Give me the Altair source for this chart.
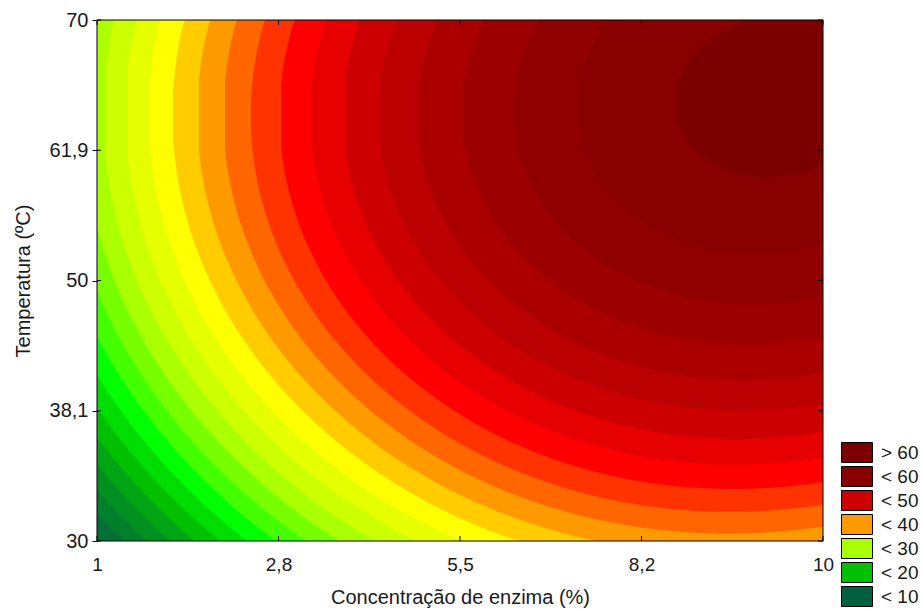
import json
import numpy as np
import pandas as pd
import altair as alt

# ---------------- values ----------------
x_tick_labels = ["1", "2,8", "5,5", "8,2", "10"]
y_tick_labels = ["30", "38,1", "50", "61,9", "70"]
tick_pos = [0, 1, 2, 3, 4]          # labels sit at evenly spaced positions

x_title = "Concentração de enzima (%)"
y_title = "Temperatura (ºC)"

# fitted response surface, in unit coordinates (u: left->right, v: bottom->top)
surf_const = 9.5
surf_u = 68.6
surf_v = 48.6
surf_uu = -39.5
surf_vv = -29.6
surf_uv = -2.1
surf_uuv = 4.5

# contour bands (lower bound of each band) and their colours
band_lower = [8, 10, 12, 14, 16, 18, 20, 22, 24, 26, 28, 30, 32, 34,
              36, 38, 40, 42, 44, 46, 48, 50, 52, 54, 56, 58, 60]
band_colors = ["#006040", "#007035", "#00802a", "#00901f", "#00a514", "#00c000",
               "#00dd00", "#00ff00", "#44ff00", "#77ff00", "#aaff00", "#ccff00",
               "#e6ff00", "#ffff00", "#ffcc00", "#ff9900", "#ff6600", "#ff3300",
               "#ff0000", "#e60000", "#cc0000", "#ba0000", "#aa0000", "#9c0000",
               "#910000", "#880000", "#7c0000"]

legend_labels = ["> 60", "< 60", "< 50", "< 40", "< 30", "< 20", "< 10"]
legend_lower = [60, 58, 48, 38, 28, 18, 8]

# ---------------- build band regions ----------------
label_of = dict(zip(legend_lower, legend_labels))
band_names = [label_of.get(lo, f"{lo}–{lo + 2}") for lo in band_lower]

N = 364
us = np.linspace(0.0, 1.0, N)
span = tick_pos[-1] - tick_pos[0]
frames = []
frames.append(pd.DataFrame({"level": 0, "band": band_names[0],
                            "x": us * span, "y": 0.0, "y2": float(span)}))
for i, c in enumerate(band_lower[1:], start=1):
    a2 = surf_vv
    a1 = surf_v + surf_uv * us + surf_uuv * us ** 2
    a0 = surf_const + surf_u * us + surf_uu * us ** 2 - c
    disc = a1 ** 2 - 4 * a2 * a0
    ok = disc > 0
    sq = np.sqrt(np.where(ok, disc, 0.0))
    r1 = (-a1 + sq) / (2 * a2)
    r2 = (-a1 - sq) / (2 * a2)
    lo = np.clip(r1, 0, 1)
    hi = np.clip(r2, 0, 1)
    m = ok & (hi > lo)
    if m.sum() == 0:
        continue
    frames.append(pd.DataFrame({"level": i, "band": band_names[i],
                                "x": us[m] * span, "y": lo[m] * span,
                                "y2": hi[m] * span}))
df = pd.concat(frames, ignore_index=True).round(4)

# ---------------- chart ----------------
W, H = 726, 521
FONT = "Liberation Sans"
TXT = "#1a1a1a"

xscale = alt.Scale(domain=[tick_pos[0], tick_pos[-1]], nice=False, zero=False)
yscale = alt.Scale(domain=[tick_pos[0], tick_pos[-1]], nice=False, zero=False)

x_axis = alt.Axis(values=tick_pos, labelExpr=f"{json.dumps(x_tick_labels)}[datum.value]",
                  ticks=False, domain=False, grid=False, labelFont=FONT, labelFontSize=19,
                  labelColor=TXT, labelPadding=14, labelFlush=False, labelOverlap=False,
                  titleFont=FONT, titleFontSize=20, titleFontWeight="normal", titleColor=TXT,
                  titleX=363, titleY=56, titleBaseline="middle", titleAlign="center", zindex=1)
y_axis = alt.Axis(values=tick_pos, labelExpr=f"{json.dumps(y_tick_labels)}[datum.value]",
                  ticks=True, tickSize=5, tickColor="black", domain=False, grid=False,
                  labelFont=FONT, labelFontSize=20, labelColor=TXT, labelPadding=4,
                  labelFlush=False, labelOverlap=False,
                  titleFont=FONT, titleFontSize=20, titleFontWeight="normal", titleColor=TXT,
                  titleAngle=270, titleX=-74, titleY=260.5, titleBaseline="middle",
                  titleAlign="center", zindex=1)

XE = alt.X("x:Q", scale=xscale, axis=x_axis, title=x_title)
YE = alt.Y("y:Q", scale=yscale, axis=y_axis, title=y_title)

color_enc = alt.Color("band:N", scale=alt.Scale(domain=band_names, range=band_colors),
                      title=None,
                      legend=alt.Legend(values=legend_labels, orient="none", direction="vertical",
                                        legendX=749.5, legendY=422,
                                        symbolType="M-1.55,-1L1.55,-1L1.55,1L-1.55,1Z",
                                        symbolSize=400, symbolStrokeColor="black",
                                        symbolStrokeWidth=1, symbolOpacity=1,
                                        labelFont=FONT, labelFontSize=19, labelColor=TXT,
                                        labelOffset=13.5, rowPadding=-1, padding=0))

base = alt.Chart(df)
layers = []
for i in sorted(df["level"].unique()):
    layers.append(
        base.transform_filter(alt.datum.level == int(i))
        .mark_area(opacity=1, interpolate="linear")
        .encode(x=XE, y=YE, y2="y2:Q", color=color_enc)
    )

frame_df = pd.DataFrame({"x": [tick_pos[0]], "x2": [tick_pos[-1]],
                         "y": [tick_pos[0]], "y2": [tick_pos[-1]]})
frame = alt.Chart(frame_df).mark_rect(fillOpacity=0, stroke="black", strokeWidth=1).encode(
    x=XE, x2="x2:Q", y=YE, y2="y2:Q")

xt = pd.DataFrame({"x": tick_pos})
yt = pd.DataFrame({"y": tick_pos})
tick_top = alt.Chart(xt).mark_rule(color="black").encode(
    x=XE, y=alt.value(0), y2=alt.value(5))
tick_bot = alt.Chart(xt).mark_rule(color="black").encode(
    x=XE, y=alt.value(H), y2=alt.value(H - 5))
tick_left = alt.Chart(yt).mark_rule(color="black").encode(
    y=YE, x=alt.value(0), x2=alt.value(4))
tick_right = alt.Chart(yt).mark_rule(color="black").encode(
    y=YE, x=alt.value(W), x2=alt.value(W - 5))

chart = alt.layer(*layers, frame, tick_top, tick_bot, tick_left, tick_right).properties(
    width=W, height=H,
    padding={"left": 97, "top": 20, "right": 100, "bottom": 68},
    autosize=alt.AutoSizeParams(type="none"),
    background="white",
).configure_view(stroke=None)

chart.save("out.html", embed_options={"renderer": "svg", "actions": False})
